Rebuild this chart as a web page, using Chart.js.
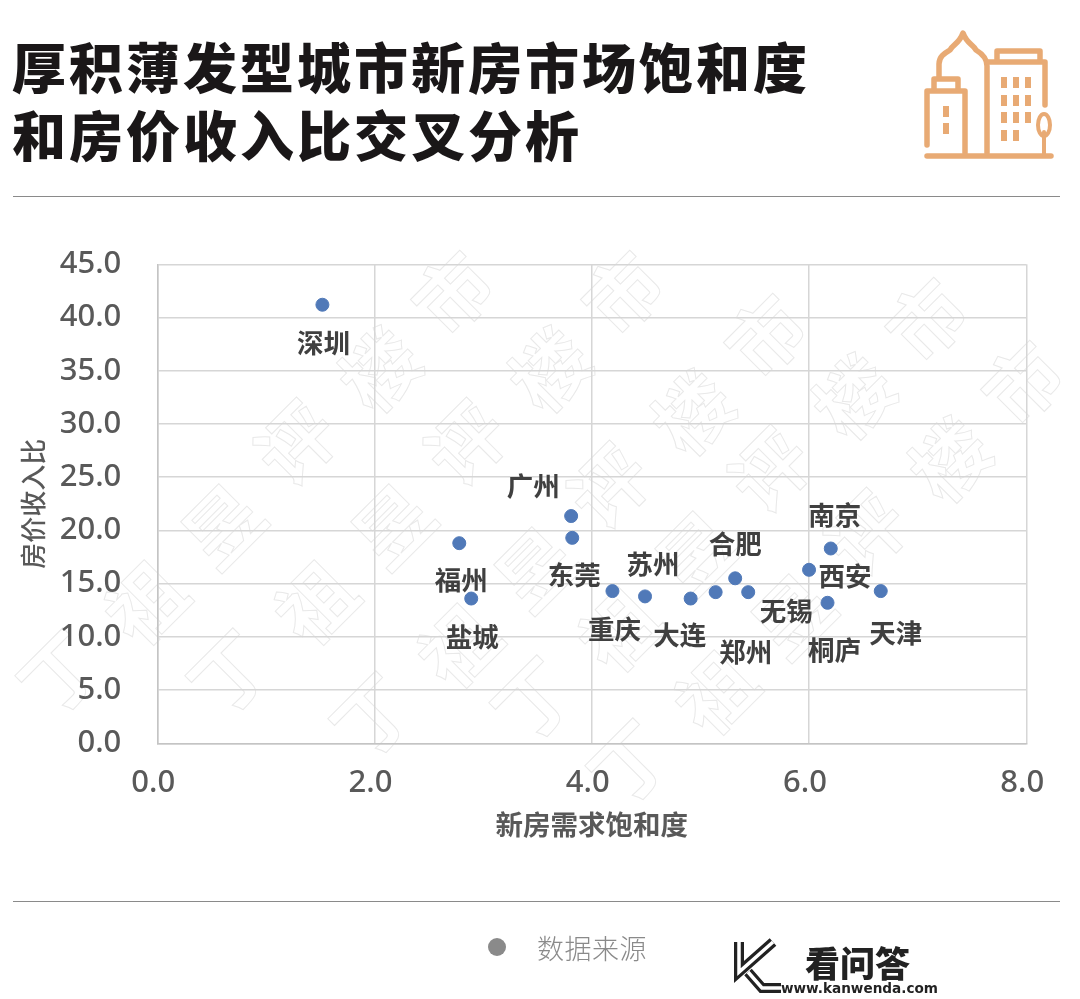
<!DOCTYPE html>
<html lang="zh">
<head>
<meta charset="utf-8">
<title>厚积薄发型城市新房市场饱和度和房价收入比交叉分析</title>
<script src="https://cdn.jsdelivr.net/npm/chart.js@4"></script>
<style>
    html, body { margin: 0; padding: 0; background: #fff; }
    body { position: relative; width: 1080px; height: 999px; overflow: hidden; font-family: "Noto Sans CJK SC", sans-serif; }
    .title { position: absolute; left: 12px; font-size: 54px; font-weight: 900; letter-spacing: 3px; line-height: 70px; color: #1a1718; white-space: nowrap; }
    .rule { position: absolute; left: 13px; width: 1047px; height: 1px; background: #8a8a8a; }
    .wm { position: absolute; width: 80px; height: 80px; line-height: 80px; text-align: center; font-size: 76px; font-weight: 700; color: #fff; -webkit-text-stroke: 1px #e9e9e9; transform: rotate(-45deg); }
    #chart { position: absolute; left: 0; top: 0; }
    #icon, #logo { position: absolute; }
    .dot { position: absolute; left: 488px; top: 938px; width: 18px; height: 18px; border-radius: 50%; background: #8a8a8a; }
    .source { position: absolute; left: 537px; top: 929px; width: 109px; overflow: hidden; font-size: 27px; line-height: 38px; font-weight: 300; color: #8a8a8a; white-space: nowrap; letter-spacing: .5px; }
    .brand { position: absolute; left: 805px; top: 940px; font-size: 35px; line-height: 44px; font-weight: 900; color: #222; white-space: nowrap; }
    .site { position: absolute; left: 781px; top: 979px; font-family: "DejaVu Sans", sans-serif; font-size: 13.6px; line-height: 18px; font-weight: 700; color: #222; white-space: nowrap; }
</style>
</head>
<body>
<div class="title" style="top:31px">厚积薄发型城市新房市场饱和度</div>
<div class="title" style="top:99px">和房价收入比交叉分析</div>
<svg id="icon" style="left:915px;top:20px" width="150" height="150" viewBox="0 0 150 150" fill="none" stroke="#e8aa74" stroke-width="5.5" stroke-linecap="round" stroke-linejoin="round">
    <path d="M12 136H136"/>
    <path d="M12 125V71H50V133"/>
    <path d="M19 69V59H43V69"/>
    <path d="M24 58V44C24 36 30 33 35 30C38 24 44 24 48 13C52 24 58 24 61 30C66 33 72 38 72 46V133"/>
    <path d="M72 42H130V85"/>
    <path d="M82 40V31H125V40"/>
    <ellipse cx="129" cy="105" rx="6" ry="11" stroke-width="4"/>
    <path d="M129 112V134" stroke-width="4"/>
    <g fill="#e8aa74" stroke="none">
        <rect x="28" y="86" width="6" height="11"/><rect x="28" y="103" width="6" height="11"/>
        <rect x="86" y="57" width="6" height="11"/><rect x="98" y="57" width="6" height="11"/><rect x="110" y="57" width="6" height="11"/>
        <rect x="86" y="75" width="6" height="11"/><rect x="98" y="75" width="6" height="11"/><rect x="110" y="75" width="6" height="11"/>
        <rect x="86" y="92" width="6" height="11"/><rect x="98" y="92" width="6" height="11"/><rect x="110" y="92" width="6" height="11"/>
        <rect x="86" y="110" width="6" height="11"/><rect x="98" y="110" width="6" height="11"/>
    </g>
</svg>
<div class="rule" style="top:196px"></div>
<div id="watermark"></div>
<canvas id="chart" width="1080" height="999"></canvas>
<div class="rule" style="top:901px"></div>
<div class="dot"></div>
<div class="source">数据来源</div>
<svg id="logo" style="left:733px;top:936px" width="50" height="60" viewBox="0 0 50 60" fill="none" stroke-linejoin="miter">
    <path d="M6 6V36L40 6" stroke="#222" stroke-width="10"/>
    <path d="M15 36L29 52H48" stroke="#222" stroke-width="10"/>
    <path d="M6 6V36L40 6" stroke="#fff" stroke-width="3.5"/>
    <path d="M15 36L29 52H48" stroke="#fff" stroke-width="3.5"/>
</svg>
<div class="brand">看问答</div>
<div class="site">www.kanwenda.com</div>

<script>
// Chart data
const cities = ['深圳', '广州', '福州', '东莞', '盐城', '重庆', '苏州', '大连', '郑州', '合肥', '无锡', '西安', '南京', '桐庐', '天津'];
const saturation = [1.52, 3.81, 2.78, 3.82, 2.89, 4.19, 4.49, 4.91, 5.14, 5.32, 5.44, 6.00, 6.20, 6.17, 6.66];
const priceIncome = [41.2, 21.35, 18.8, 19.3, 13.6, 14.3, 13.8, 13.6, 14.2, 15.5, 14.2, 16.3, 18.3, 13.2, 14.3];

// Where each city name sits relative to its point
const labelDx = [1, -38, 2, 2, 1, 2, 8, -11, 30, 0, 38, 36, 4, 7, 15];
const labelDy = [38, -30, 37, 37, 38, 38, -32, 36, 60, -34, 19, 6, -34, 47, 42];

// Background watermark
const wmChars = ['丁', '祖', '昱', '评', '楼', '市'];
const wmDx = [0, 86, 163, 236, 320, 393];
const wmDy = [0, -70, -147, -230, -303, -380];
const wmStartX = [57, 227, 370, 531, 627];
const wmStartY = [670, 670, 713, 697, 760];

const wmLayer = document.getElementById('watermark');
wmStartX.forEach((startX, row) => {
    wmChars.forEach((ch, i) => {
        const el = document.createElement('div');
        el.className = 'wm';
        el.textContent = ch;
        el.style.left = (startX + wmDx[i] - 40) + 'px';
        el.style.top = (wmStartY[row] + wmDy[i] - 40) + 'px';
        wmLayer.appendChild(el);
    });
});

const cityLabels = {
    id: 'cityLabels',
    afterDatasetsDraw(chart) {
        const ctx = chart.ctx;
        ctx.save();
        ctx.font = '700 26.5px "Noto Sans CJK SC"';
        ctx.fillStyle = '#404040';
        ctx.textAlign = 'center';
        ctx.textBaseline = 'middle';
        chart.getDatasetMeta(0).data.forEach((point, i) => {
            ctx.fillText(cities[i], point.x + labelDx[i], point.y + labelDy[i]);
        });
        ctx.restore();
    }
};

const gridColor = '#d6d6d6';
const tickFont = { family: '"Noto Sans"', size: 31, weight: '500' };

new Chart(document.getElementById('chart'), {
    type: 'scatter',
    data: {
        labels: cities,
        datasets: [{
            data: saturation.map((x, i) => ({ x: x, y: priceIncome[i] })),
            backgroundColor: '#5079b8',
            borderColor: '#5079b8',
            pointRadius: 6.5
        }]
    },
    options: {
        responsive: false,
        animation: false,
        layout: { padding: { top: 264.3, right: 53.7, left: 0, bottom: 0 } },
        plugins: { legend: { display: false }, tooltip: { enabled: false } },
        scales: {
            x: {
                min: 0,
                max: 8,
                afterFit: scale => { scale.height = 255.7; },
                grid: { color: gridColor, lineWidth: 1.5, drawTicks: false },
                border: { color: '#c4c4c4', width: 1.5 },
                ticks: {
                    stepSize: 2,
                    color: '#595959',
                    font: tickFont,
                    padding: 21,
                    labelOffset: -4,
                    maxRotation: 0,
                    callback: value => value.toFixed(1)
                },
                title: {
                    display: true,
                    text: '新房需求饱和度',
                    color: '#595959',
                    font: { family: '"Noto Sans CJK SC"', size: 27.5, weight: '700' },
                    padding: { top: 0, bottom: 158 }
                }
            },
            y: {
                min: 0,
                max: 45,
                afterFit: scale => { scale.width = 157.3; },
                grid: { color: gridColor, lineWidth: 1.5, drawTicks: false },
                border: { color: '#c4c4c4', width: 1.5 },
                ticks: {
                    stepSize: 5,
                    color: '#595959',
                    font: tickFont,
                    padding: 36,
                    callback: value => value.toFixed(1)
                },
                title: {
                    display: true,
                    text: '房价收入比',
                    color: '#595959',
                    font: { family: '"Noto Sans CJK SC"', size: 26, weight: '500' },
                    padding: { top: 18, bottom: 0 }
                }
            }
        }
    },
    plugins: [cityLabels]
});
</script>
</body>
</html>
